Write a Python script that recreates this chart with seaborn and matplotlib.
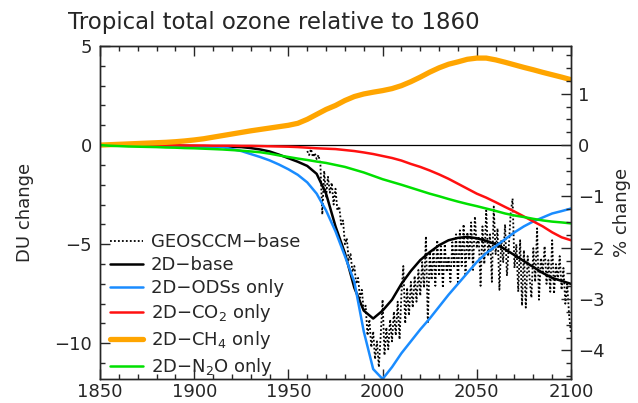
import numpy as np
import pandas as pd
import matplotlib
matplotlib.use("Agg")
import matplotlib.pyplot as plt
from matplotlib.ticker import MultipleLocator
import seaborn as sns

# --- 2D model runs, 5-year resolution (DU change relative to 1860) ---
years_2d = list(range(1850, 2101, 5))

base_2d = [0.0, 0.0, 0.0, -0.01, -0.01, -0.02, -0.02, -0.03, -0.03, -0.04,
           -0.05, -0.06, -0.07, -0.08, -0.09, -0.1, -0.15, -0.22, -0.32, -0.48,
           -0.66, -0.84, -1.05, -1.45, -2.45, -4.1, -5.45, -7.2, -8.35, -8.75,
           -8.35, -7.8, -7.0, -6.35, -5.8, -5.4, -5.05, -4.8, -4.68, -4.63,
           -4.7, -4.83, -5.0, -5.25, -5.55, -5.85, -6.15, -6.45, -6.7, -6.85, -7.0]

ods_2d = [0.0, 0.0, 0.0, -0.01, -0.02, -0.03, -0.04, -0.05, -0.06, -0.07,
          -0.08, -0.09, -0.1, -0.1, -0.2, -0.3, -0.45, -0.6, -0.77, -0.98,
          -1.22, -1.5, -1.88, -2.45, -3.3, -4.35, -5.6, -6.9, -9.4, -11.3,
          -11.8, -11.2, -10.5, -9.9, -9.3, -8.75, -8.15, -7.55, -7.0, -6.45,
          -5.9, -5.45, -5.1, -4.75, -4.4, -4.1, -3.85, -3.65, -3.45, -3.33, -3.2]

co2_2d = [0.0, 0.0, 0.0, 0.0, 0.0, -0.01, -0.01, -0.01, -0.01, -0.02,
          -0.02, -0.02, -0.03, -0.03, -0.03, -0.04, -0.04, -0.05, -0.06, -0.07,
          -0.08, -0.1, -0.13, -0.16, -0.18, -0.2, -0.25, -0.3, -0.37, -0.45,
          -0.55, -0.65, -0.78, -0.95, -1.1, -1.28, -1.48, -1.7, -1.95, -2.2,
          -2.45, -2.65, -2.88, -3.12, -3.35, -3.6, -3.85, -4.1, -4.4, -4.65, -4.8]

ch4_2d = [0.0, 0.02, 0.04, 0.06, 0.08, 0.1, 0.12, 0.14, 0.17, 0.21,
          0.26, 0.32, 0.4, 0.48, 0.56, 0.64, 0.72, 0.79, 0.86, 0.93,
          1.0, 1.1, 1.3, 1.55, 1.8, 2.0, 2.25, 2.45, 2.58, 2.67,
          2.75, 2.85, 3.0, 3.2, 3.43, 3.68, 3.9, 4.08, 4.2, 4.33,
          4.39, 4.39, 4.3, 4.18, 4.05, 3.92, 3.8, 3.67, 3.55, 3.43, 3.3]

n2o_2d = [0.0, -0.03, -0.05, -0.07, -0.08, -0.09, -0.1, -0.12, -0.13, -0.15,
          -0.16, -0.18, -0.2, -0.22, -0.25, -0.28, -0.32, -0.36, -0.43, -0.52,
          -0.6, -0.68, -0.75, -0.83, -0.9, -1.0, -1.1, -1.24, -1.38, -1.55,
          -1.72, -1.86, -2.0, -2.15, -2.3, -2.45, -2.58, -2.72, -2.85, -2.97,
          -3.08, -3.2, -3.32, -3.45, -3.55, -3.63, -3.72, -3.8, -3.86, -3.9, -3.95]

# --- GEOSCCM base run, annual values 1960-2100 ---
years_ccm = list(range(1960, 2101))
ccm_base = [
    -0.3, -0.5, -0.2, -0.6, -0.4, -0.7, -0.5, -1.0, -3.5, -1.3,
    -2.6, -1.6, -2.4, -1.9, -3.0, -2.2, -3.3, -3.1, -4.0, -3.8,
    -5.0, -4.7, -5.8, -5.5, -6.4, -6.1, -7.0, -6.7, -7.7, -7.3,
    -8.4, -8.1, -9.6, -8.8, -10.2, -9.4, -10.8, -9.9, -11.2, -9.6,
    -7.8, -10.6, -9.2, -10.3, -8.8, -9.9, -8.4, -9.6, -7.9, -9.8,
    -7.5, -6.1, -9.0, -7.2, -8.6, -6.9, -8.2, -6.6, -7.9, -6.3,
    -7.6, -5.9, -7.2, -4.6, -9.0, -5.4, -6.8, -5.2, -7.1, -4.8,
    -6.6, -5.1, -7.2, -5.0, -6.4, -5.6, -6.9, -4.9, -6.2, -4.5,
    -7.0, -4.3, -6.1, -4.0, -6.6, -4.4, -5.8, -3.9, -6.3, -3.6,
    -5.2, -4.6, -7.1, -4.1, -6.0, -3.3, -5.6, -4.5, -6.9, -3.1,
    -5.5, -4.2, -7.3, -4.8, -5.9, -4.0, -6.6, -5.1, -3.4, -2.7,
    -6.2, -5.0, -7.4, -4.8, -8.1, -5.3, -8.2, -5.6, -6.7, -7.7,
    -5.2, -6.9, -4.2, -7.8, -5.7, -6.4, -5.1, -7.0, -5.8, -7.4,
    -4.8, -7.5, -6.0, -6.8, -5.6, -7.3, -6.2, -8.0, -7.0, -8.6,
    -9.5]

# Tropical column used to convert DU to percent
du_per_percent = 2.59

x_ticks = [1850, 1900, 1950, 2000, 2050, 2100]
du_ticks = [-10, -5, 0, 5]
pct_ticks = [-4, -3, -2, -1, 0, 1]

sns.set_style("ticks")
plt.rcParams["font.family"] = ["DejaVu Sans"]
plt.rcParams["axes.linewidth"] = 1.0

fig = plt.figure(figsize=(6.38, 4.03), dpi=100)
ax = fig.add_axes([100 / 638, 1 - 379 / 403, 471 / 638, 333 / 403])

df_2d = pd.DataFrame({"year": years_2d, "base": base_2d, "ods": ods_2d,
                      "co2": co2_2d, "ch4": ch4_2d, "n2o": n2o_2d})
df_ccm = pd.DataFrame({"year": years_ccm, "ccm": ccm_base})

ax.axhline(0, color="black", lw=0.9, zorder=1)

sns.lineplot(data=df_ccm, x="year", y="ccm", ax=ax, color="black",
             lw=1.3, linestyle=(0, (1, 1.2)), label="GEOSCCM\u2212base")
sns.lineplot(data=df_2d, x="year", y="base", ax=ax, color="black", lw=1.8,
             label="2D\u2212base")
sns.lineplot(data=df_2d, x="year", y="ods", ax=ax, color="#1a8cff", lw=1.8,
             label="2D\u2212ODSs only")
sns.lineplot(data=df_2d, x="year", y="co2", ax=ax, color="#ff1010", lw=1.8,
             label="2D\u2212CO$_2$ only")
sns.lineplot(data=df_2d, x="year", y="ch4", ax=ax, color="#ffa500", lw=3.8,
             label="2D\u2212CH$_4$ only")
sns.lineplot(data=df_2d, x="year", y="n2o", ax=ax, color="#00e000", lw=1.8,
             label="2D\u2212N$_2$O only")

ymin, ymax = -11.8, 5.0
ax.set_xlim(1850, 2100)
ax.set_ylim(ymin, ymax)
ax.set_xticks(x_ticks)
ax.set_yticks(du_ticks)
ax.xaxis.set_minor_locator(MultipleLocator(10))
ax.yaxis.set_minor_locator(MultipleLocator(1))
ax.tick_params(axis="both", which="major", direction="in", length=7, width=1,
               labelsize=13, top=True, right=False, pad=6)
ax.tick_params(axis="x", which="major", pad=3)
ax.tick_params(axis="both", which="minor", direction="in", length=3.5, width=1,
               top=True, right=False)
ax.set_xlabel("")
ax.set_ylabel("DU change", fontsize=13, labelpad=14)

ax2 = ax.twinx()
ax2.set_ylim(ymin / du_per_percent, ymax / du_per_percent)
ax2.set_yticks(pct_ticks)
ax2.yaxis.set_minor_locator(MultipleLocator(0.25))
ax2.tick_params(axis="y", which="major", direction="in", length=7, width=1,
                labelsize=13, pad=5)
ax2.tick_params(axis="y", which="minor", direction="in", length=3.5, width=1)
ax2.set_ylabel("% change", fontsize=13, labelpad=6)

leg = ax.legend(loc="upper left", bbox_to_anchor=(110 / 638, 1 - 233 / 403),
                bbox_transform=fig.transFigure, frameon=False, fontsize=13,
                handlelength=1.8, handletextpad=0.45, labelspacing=0.28,
                borderpad=0, borderaxespad=0)

fig.text(274 / 638, 1 - 22 / 403, "Tropical total ozone relative to 1860",
         ha="center", va="center", fontsize=16.5)

fig.savefig("out.png", dpi=100)
